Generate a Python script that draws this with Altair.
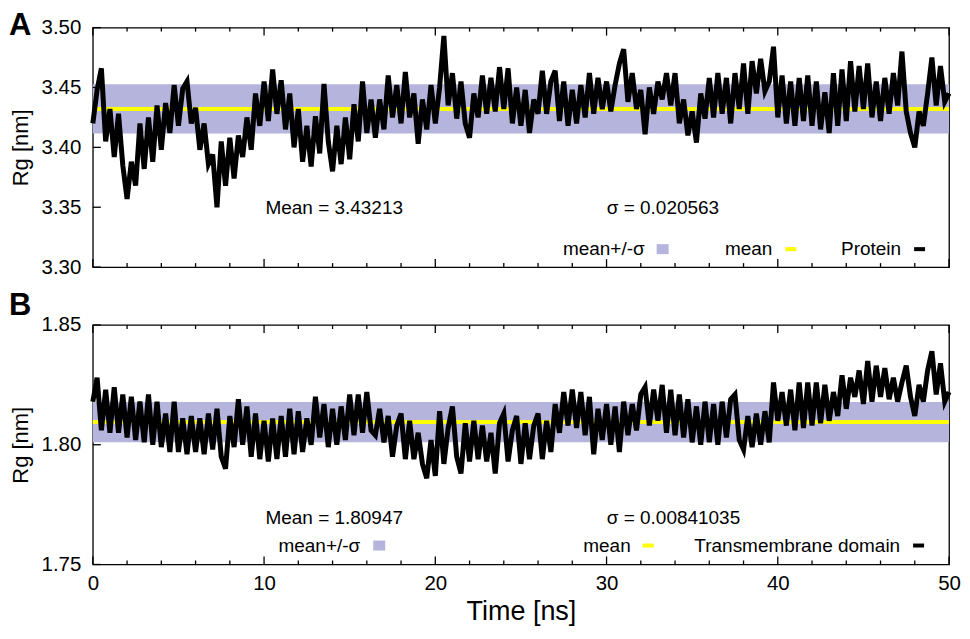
import altair as alt
import pandas as pd

FONT = "Liberation Sans"
BAND = "#b4b4dc"
YELLOW = "#ffff00"

# sampling grid of the trajectories (ns)
time_ns = [i * 0.25 for i in range(201)]

# Panel A: Rg of the whole protein (nm)
rg_protein = [
    3.420, 3.448, 3.466, 3.405, 3.432, 3.392, 3.428, 3.385, 3.357, 3.388,
    3.368, 3.420, 3.382, 3.425, 3.388, 3.435, 3.398, 3.437, 3.412, 3.452,
    3.418, 3.449, 3.455, 3.420, 3.433, 3.398, 3.420, 3.386, 3.394, 3.350,
    3.405, 3.368, 3.408, 3.374, 3.410, 3.392, 3.425, 3.398, 3.445, 3.418,
    3.455, 3.422, 3.465, 3.428, 3.456, 3.415, 3.445, 3.400, 3.432, 3.388,
    3.418, 3.384, 3.426, 3.395, 3.453, 3.405, 3.380, 3.418, 3.386, 3.425,
    3.390, 3.436, 3.405, 3.455, 3.412, 3.440,
    3.408, 3.440, 3.415, 3.460, 3.425, 3.452, 3.420, 3.463, 3.425, 3.445,
    3.403, 3.440, 3.415, 3.452, 3.420, 3.450, 3.493, 3.435, 3.462, 3.424,
    3.455, 3.420, 3.408, 3.445, 3.425, 3.460, 3.428, 3.458, 3.430, 3.467,
    3.432, 3.466, 3.420, 3.450, 3.418, 3.448, 3.412, 3.440, 3.428, 3.464,
    3.428, 3.455, 3.464, 3.422, 3.455, 3.418, 3.448, 3.420, 3.452, 3.425,
    3.462, 3.428, 3.458, 3.432, 3.455, 3.430, 3.452, 3.470, 3.482, 3.438,
    3.462, 3.432, 3.448, 3.411, 3.450, 3.428, 3.455,
    3.440, 3.462, 3.435, 3.462, 3.420, 3.440, 3.410, 3.430, 3.404, 3.445,
    3.424, 3.458, 3.425, 3.462, 3.428, 3.458, 3.420, 3.462, 3.432, 3.470,
    3.428, 3.472, 3.445, 3.474, 3.447, 3.455, 3.484, 3.425, 3.460, 3.420,
    3.455, 3.418, 3.458, 3.422, 3.460, 3.418, 3.455, 3.415, 3.446, 3.412,
    3.462, 3.418, 3.465, 3.422, 3.472, 3.430, 3.468, 3.432, 3.470, 3.425,
    3.455, 3.422, 3.458, 3.428, 3.462, 3.435, 3.480, 3.430, 3.412, 3.400,
    3.430, 3.418, 3.445, 3.475, 3.435, 3.468, 3.438, 3.445,
]

# Panel B: Rg of the transmembrane domain (nm)
rg_tm = [
    1.818, 1.828, 1.806, 1.823, 1.805, 1.824, 1.805, 1.821, 1.803, 1.820,
    1.802, 1.818, 1.801, 1.821, 1.800, 1.818, 1.799, 1.813, 1.797, 1.818,
    1.797, 1.811, 1.796, 1.812, 1.797, 1.811, 1.796, 1.813, 1.798, 1.815,
    1.795, 1.790, 1.812, 1.799, 1.819, 1.800, 1.816, 1.795, 1.813, 1.794,
    1.810, 1.793, 1.811, 1.794, 1.812, 1.795, 1.815, 1.796, 1.814, 1.797,
    1.811, 1.800, 1.820, 1.803, 1.817, 1.799, 1.815, 1.800, 1.816, 1.802,
    1.821, 1.804, 1.821, 1.805, 1.822, 1.806,
    1.804, 1.815, 1.801, 1.812, 1.795, 1.808, 1.813, 1.794, 1.810, 1.794,
    1.805, 1.792, 1.786, 1.802, 1.787, 1.814, 1.792, 1.807, 1.816, 1.795,
    1.788, 1.809, 1.793, 1.810, 1.794, 1.808, 1.793, 1.805, 1.788, 1.809,
    1.813, 1.793, 1.806, 1.812, 1.792, 1.809, 1.794, 1.808, 1.813, 1.794,
    1.810, 1.797, 1.817, 1.805, 1.822, 1.808, 1.823, 1.807, 1.822, 1.804,
    1.820, 1.796, 1.815, 1.802, 1.817, 1.800, 1.816, 1.797, 1.818, 1.804,
    1.817, 1.806, 1.821, 1.824, 1.808, 1.823, 1.810,
    1.825, 1.805, 1.823, 1.804, 1.821, 1.803, 1.819, 1.801, 1.816, 1.800,
    1.818, 1.801, 1.817, 1.800, 1.818, 1.803, 1.819, 1.821, 1.802, 1.798,
    1.812, 1.799, 1.813, 1.800, 1.814, 1.801, 1.826, 1.810, 1.822, 1.808,
    1.823, 1.806, 1.826, 1.807, 1.826, 1.808, 1.826, 1.809, 1.825, 1.810,
    1.822, 1.812, 1.829, 1.815, 1.828, 1.820, 1.831, 1.817, 1.835, 1.818,
    1.833, 1.820, 1.832, 1.819, 1.828, 1.818, 1.826, 1.833, 1.820, 1.812,
    1.825, 1.818, 1.831, 1.839, 1.821, 1.834, 1.818, 1.822,
]

mean_a, sigma_a = 3.43213, 0.020563
mean_b, sigma_b = 1.80947, 0.00841035

x_major = [0, 10, 20, 30, 40, 50]
x_minor = [2, 4, 6, 8, 12, 14, 16, 18, 22, 24, 26, 28, 32, 34, 36, 38,
           42, 44, 46, 48]
y_ticks_a = [3.30, 3.35, 3.40, 3.45, 3.50]
y_ticks_b = [1.75, 1.80, 1.85]

W, H = 858, 240
ONE = pd.DataFrame({"k": [0]})


def txt(s, x, y, align="left", size=19, weight="normal"):
    return alt.Chart(ONE).mark_text(
        text=s, align=align, baseline="alphabetic", font=FONT,
        fontSize=size, fontWeight=weight, color="black",
    ).encode(x=alt.value(x), y=alt.value(y))


def panel(values, mean, sigma, ydom, yticks, letter, letter_y, texts,
          legend, show_x):
    xs = alt.Scale(domain=[0, 50], nice=False, zero=False)
    ys = alt.Scale(domain=ydom, nice=False, zero=False)
    df = pd.DataFrame({"t": time_ns, "rg": values})

    yaxis = alt.Axis(values=yticks, format=".2f", ticks=False, tickSize=0,
                     domain=False, grid=False, labelFont=FONT,
                     labelFontSize=20.5, labelPadding=12, labelColor="black",
                     labelFlush=False, title="Rg [nm]", titleFont=FONT,
                     titleFontSize=22, titleFontWeight="normal",
                     titlePadding=9, titleColor="black")
    if show_x:
        xaxis = alt.Axis(values=x_major, format="d", ticks=False, tickSize=0,
                         domain=False, grid=False, labelFont=FONT,
                         labelFontSize=20.5, labelPadding=9,
                         labelColor="black", labelFlush=False,
                         title="Time [ns]", titleFont=FONT, titleFontSize=27,
                         titleFontWeight="normal", titlePadding=5,
                         titleColor="black")
    else:
        xaxis = None

    band = alt.Chart(pd.DataFrame({"lo": [mean - sigma], "hi": [mean + sigma]})).mark_rect(
        color=BAND).encode(
        x=alt.value(0), x2=alt.value(W),
        y=alt.Y("lo:Q", scale=ys, axis=yaxis), y2="hi:Q")
    mline = alt.Chart(pd.DataFrame({"m": [mean]})).mark_rule(
        color=YELLOW, strokeWidth=4).encode(
        y=alt.Y("m:Q", scale=ys, axis=yaxis), x=alt.value(0), x2=alt.value(W))
    line = alt.Chart(df).mark_line(
        color="black", strokeWidth=5, strokeJoin="miter").encode(
        x=alt.X("t:Q", scale=xs, axis=xaxis),
        y=alt.Y("rg:Q", scale=ys, axis=yaxis))

    def xt(vals, y0, y1):
        return alt.Chart(pd.DataFrame({"v": vals})).mark_rule(
            color="black", strokeWidth=1.3).encode(
            x=alt.X("v:Q", scale=xs, axis=xaxis),
            y=alt.value(y0), y2=alt.value(y1))

    ticks = [xt(x_major, H, H - 8), xt(x_major, 0, 8),
             xt(x_minor, H, H - 4), xt(x_minor, 0, 4)]
    yt = alt.Chart(pd.DataFrame({"v": yticks})).mark_rule(
        color="black", strokeWidth=1.3).encode(
        y=alt.Y("v:Q", scale=ys, axis=yaxis), x=alt.value(0), x2=alt.value(8))

    layers = [band, mline, line] + ticks + [yt]
    layers.append(txt(letter, -84, letter_y, size=31, weight="bold"))
    for s, x, y in texts:
        layers.append(txt(s, x, y))
    # legend: (label, right edge of text, text baseline, swatch kind, swatch x)
    for s, xr, yb, kind, sx in legend:
        layers.append(txt(s, xr, yb, align="right"))
        if kind == "band":
            layers.append(alt.Chart(ONE).mark_rect(color=BAND).encode(
                x=alt.value(sx), x2=alt.value(sx + 12),
                y=alt.value(yb - 11), y2=alt.value(yb - 1)))
        else:
            col = YELLOW if kind == "mean" else "black"
            layers.append(alt.Chart(ONE).mark_rule(color=col, strokeWidth=4).encode(
                x=alt.value(sx), x2=alt.value(sx + 11), y=alt.value(yb - 6)))
    return alt.layer(*layers).properties(width=W, height=H)


pA = panel(
    rg_protein, mean_a, sigma_a, [3.30, 3.50], y_ticks_a, "A", 7,
    [("Mean = 3.43213", 173, 187), ("\u03c3 = 0.020563", 515, 187)],
    [("mean+/-\u03c3", 553, 228, "band", 565),
     ("mean", 681, 228, "mean", 694),
     ("Protein", 810, 228, "line", 823)],
    False)

pB = panel(
    rg_tm, mean_b, sigma_b, [1.75, 1.85], y_ticks_b, "B", -10,
    [("Mean = 1.80947", 173, 199), ("\u03c3 = 0.00841035", 515, 199)],
    [("mean+/-\u03c3", 268, 227, "band", 281),
     ("mean", 539, 227, "mean", 551),
     ("Transmembrane domain", 809, 227, "line", 822)],
    True)

chart = alt.vconcat(pA, pB, spacing=58, bounds="flush").properties(
    padding=0
).configure_view(stroke="black", strokeWidth=1.3)

chart.save("out.html", embed_options={"renderer": "svg", "actions": False})
